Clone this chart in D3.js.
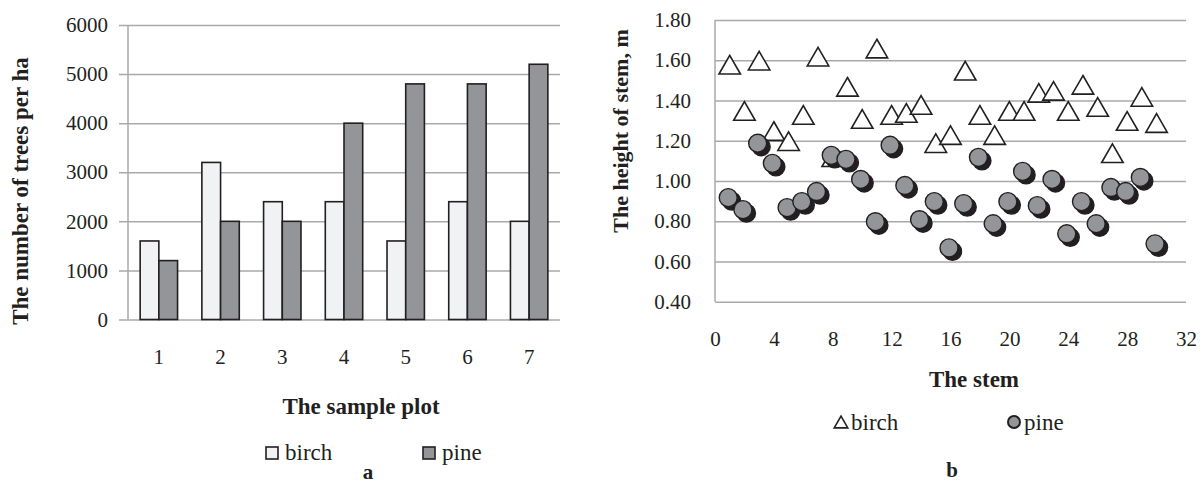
<!DOCTYPE html>
<html lang="en">
<head>
<meta charset="UTF-8">
<title>Birch and pine</title>
<style>
    body { margin: 0; background: #ffffff; }
    svg { display: block; }
    text { fill: #231f20; font-family: "Liberation Serif", "Times New Roman", serif; }
    .domain { display: none; }
</style>
</head>
<body>
<svg id="chart" width="1204" height="484"></svg>
<script src="https://d3js.org/d3.v7.min.js"></script>
<script>
// panel a: trees per ha on each sample plot
const plots = ["1", "2", "3", "4", "5", "6", "7"];
const birchPerHa = [1600, 3200, 2400, 2400, 1600, 2400, 2000];
const pinePerHa = [1200, 2000, 2000, 4000, 4800, 4800, 5200];
const densityTicks = [0, 1000, 2000, 3000, 4000, 5000, 6000];

// panel b: height of each stem, m
const stems = d3.range(1, 31);
const birchHeight = [1.57, 1.34, 1.59, 1.24, 1.19, 1.32, 1.61, 1.11, 1.46, 1.30,
    1.65, 1.32, 1.33, 1.37, 1.18, 1.22, 1.54, 1.32, 1.22, 1.34,
    1.34, 1.43, 1.44, 1.34, 1.47, 1.36, 1.13, 1.29, 1.41, 1.28];
const pineHeight = [0.91, 0.85, 1.18, 1.08, 0.86, 0.89, 0.94, 1.12, 1.10, 1.00,
    0.79, 1.17, 0.97, 0.80, 0.89, 0.66, 0.88, 1.11, 0.78, 0.89,
    1.04, 0.87, 1.00, 0.73, 0.89, 0.78, 0.96, 0.94, 1.01, 0.68];
const heightTicks = [0.4, 0.6, 0.8, 1.0, 1.2, 1.4, 1.6, 1.8];
const stemTicks = [0, 4, 8, 12, 16, 20, 24, 28, 32];

const series = ["birch", "pine"];
const fills = { birch: "#f1f2f4", pine: "#939598" };
const ink = "#231f20";
const gridColor = "#a7a9ac";

const svg = d3.select("#chart");

// d3 axes put their own font on the group; drop it so the serif applies
function plain(g) {
    g.attr("font-family", null).attr("font-size", null);
    g.selectAll("text").attr("font-size", 21).attr("fill", ink);
}

// ---------- panel a ----------
const a = { left: 128, right: 560, top: 25, bottom: 319.5 };
const x0 = d3.scaleBand().domain(plots).range([a.left, a.right]);
const x1 = d3.scaleBand().domain(series).range([0, x0.bandwidth()]).paddingOuter(0.65);
const ya = d3.scaleLinear().domain([0, 6000]).range([a.bottom, a.top]);

const gridA = svg.append("g")
    .attr("transform", `translate(${a.left - 9},0)`)
    .call(d3.axisLeft(ya).tickValues(densityTicks).tickSize(-(a.right - a.left + 9)).tickFormat(""));
gridA.selectAll("line").attr("stroke", gridColor).attr("stroke-width", 1.5);

svg.append("line")
    .attr("x1", a.left).attr("x2", a.left)
    .attr("y1", a.top).attr("y2", a.bottom)
    .attr("stroke", gridColor).attr("stroke-width", 1.5);

svg.append("g")
    .attr("transform", `translate(${a.left},0)`)
    .call(d3.axisLeft(ya).tickValues(densityTicks).tickSize(0).tickPadding(20).tickFormat(d3.format("d")))
    .call(plain);

const rows = plots.map((p, i) => ({ plot: p, birch: birchPerHa[i], pine: pinePerHa[i] }));
svg.append("g").selectAll("g")
    .data(rows)
    .join("g")
    .attr("transform", d => `translate(${x0(d.plot)},0)`)
    .selectAll("rect")
    .data(d => series.map(s => ({ key: s, value: d[s] })))
    .join("rect")
    .attr("x", d => x1(d.key))
    .attr("width", x1.bandwidth())
    .attr("y", d => ya(d.value))
    .attr("height", d => ya(0) - ya(d.value))
    .attr("fill", d => fills[d.key])
    .attr("stroke", ink)
    .attr("stroke-width", 1.6);

svg.append("g")
    .attr("transform", `translate(0,${a.bottom})`)
    .call(d3.axisBottom(x0).tickSize(0).tickPadding(30))
    .call(plain);

svg.append("text")
    .attr("transform", "translate(28,191) rotate(-90)")
    .attr("text-anchor", "middle")
    .attr("font-size", 23).attr("font-weight", "bold")
    .text("The number of trees per ha");

svg.append("text")
    .attr("x", 361).attr("y", 414)
    .attr("text-anchor", "middle")
    .attr("font-size", 23).attr("font-weight", "bold")
    .text("The sample plot");

const legA = [{ key: "birch", x: 266 }, { key: "pine", x: 423 }];
legA.forEach(l => {
    svg.append("rect")
        .attr("x", l.x).attr("y", 447).attr("width", 12).attr("height", 12)
        .attr("fill", fills[l.key]).attr("stroke", ink).attr("stroke-width", 1.6);
    svg.append("text")
        .attr("x", l.x + 19).attr("y", 460)
        .attr("font-size", 23)
        .text(l.key);
});

svg.append("text")
    .attr("x", 368).attr("y", 479)
    .attr("text-anchor", "middle")
    .attr("font-size", 21).attr("font-weight", "bold")
    .text("a");

// ---------- panel b ----------
const b = { left: 715, right: 1186, top: 20, bottom: 301.7 };
const xb = d3.scaleLinear().domain([0, 32]).range([b.left, b.right]);
const yb = d3.scaleLinear().domain([0.4, 1.8]).range([b.bottom, b.top]);

const gridB = svg.append("g")
    .attr("transform", `translate(${b.left},0)`)
    .call(d3.axisLeft(yb).tickValues(heightTicks).tickSize(-(b.right - b.left)).tickFormat(""));
gridB.selectAll("line").attr("stroke", gridColor).attr("stroke-width", 1.5);

svg.append("line")
    .attr("x1", b.left).attr("x2", b.left)
    .attr("y1", b.top).attr("y2", b.bottom)
    .attr("stroke", gridColor).attr("stroke-width", 1.5);

svg.append("g")
    .attr("transform", `translate(${b.left},0)`)
    .call(d3.axisLeft(yb).tickValues(heightTicks).tickSize(0).tickPadding(24).tickFormat(d3.format(".2f")))
    .call(plain);

svg.append("g")
    .attr("transform", `translate(0,${b.bottom})`)
    .call(d3.axisBottom(xb).tickValues(stemTicks).tickSize(0).tickPadding(29))
    .call(plain);

const tri = d3.symbol().type(d3.symbolTriangle).size(200);

svg.append("g").selectAll("path")
    .data(stems.map((s, i) => ({ stem: s, h: birchHeight[i] })))
    .join("path")
    .attr("d", tri)
    .attr("transform", d => `translate(${xb(d.stem)},${yb(d.h) + 1.5})`)
    .attr("fill", "#ffffff")
    .attr("stroke", ink)
    .attr("stroke-width", 1.6);

const pineG = svg.append("g").selectAll("g")
    .data(stems.map((s, i) => ({ stem: s, h: pineHeight[i] })))
    .join("g")
    .attr("transform", d => `translate(${xb(d.stem)},${yb(d.h)})`);
pineG.append("circle")
    .attr("cx", 2).attr("cy", 2).attr("r", 9)
    .attr("fill", ink).attr("stroke", ink).attr("stroke-width", 1.4);
pineG.append("circle")
    .attr("cx", -1.5).attr("cy", -1.5).attr("r", 9)
    .attr("fill", fills.pine).attr("stroke", ink).attr("stroke-width", 1.4);

svg.append("text")
    .attr("transform", "translate(628,131) rotate(-90)")
    .attr("text-anchor", "middle")
    .attr("font-size", 22).attr("font-weight", "bold")
    .text("The height of stem, m");

svg.append("text")
    .attr("x", 974).attr("y", 387)
    .attr("text-anchor", "middle")
    .attr("font-size", 23).attr("font-weight", "bold")
    .text("The stem");

svg.append("path")
    .attr("d", d3.symbol().type(d3.symbolTriangle).size(80))
    .attr("transform", "translate(841,424)")
    .attr("fill", "#ffffff").attr("stroke", ink).attr("stroke-width", 1.6);
svg.append("text")
    .attr("x", 851).attr("y", 430)
    .attr("font-size", 23)
    .text("birch");

svg.append("circle")
    .attr("cx", 1014).attr("cy", 422).attr("r", 6)
    .attr("fill", fills.pine).attr("stroke", ink).attr("stroke-width", 2);
svg.append("text")
    .attr("x", 1024).attr("y", 430)
    .attr("font-size", 23)
    .text("pine");

svg.append("text")
    .attr("x", 952).attr("y", 477)
    .attr("text-anchor", "middle")
    .attr("font-size", 21).attr("font-weight", "bold")
    .text("b");
</script>
</body>
</html>
